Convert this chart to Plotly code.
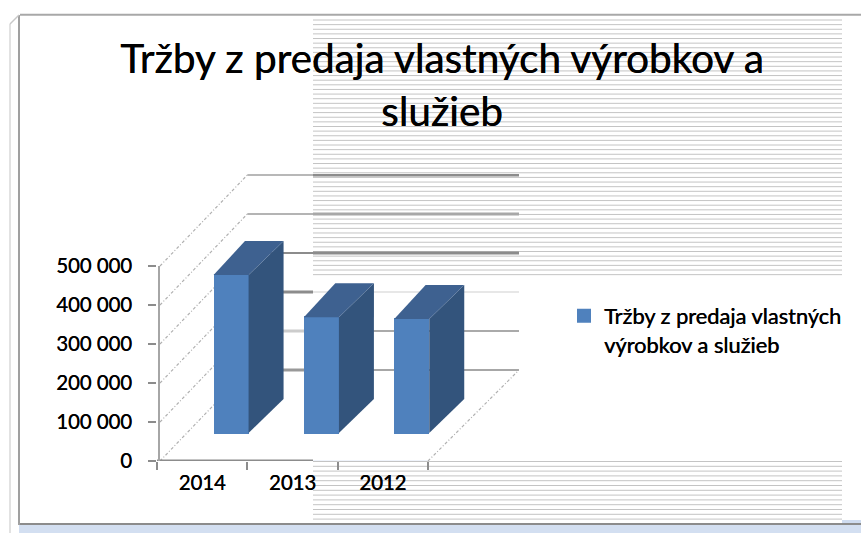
import plotly.graph_objects as go

# ---------- data ----------
years = ["2014", "2013", "2012"]
values = [405000, 297000, 292000]
y_ticks = [0, 100000, 200000, 300000, 400000, 500000]
title_text = "Tržby z predaja vlastných výrobkov a<br>služieb"
series_name = "Tržby z predaja vlastných<br>výrobkov a služieb"

# ---------- geometry (pixels) ----------
W, H = 861, 533
FONT = "Lato"
HEAVY = "0.4px 0 0 #000000"
X_FRONT_L, X_FRONT_R, X_BACK_R = 157.0, 428.0, 519.0
Y_ZERO, Y_TOP_FRONT, Y_BACK_TOP = 461.0, 266.0, 174.0
Y_BAR_BASE, Y_BACK_ZERO = 433.0, 370.0
PX_PER_CAT = (X_FRONT_R - X_FRONT_L) / 3
PX_PER_VAL = (Y_ZERO - Y_TOP_FRONT) / 500000
SPLIT_X = 313.0


def px(x):
    return x / W


def py(y):
    return 1 - y / H


def cat_x(x):
    return (x - X_FRONT_L) / PX_PER_CAT - 0.5


def val_y(y):
    return (Y_BAR_BASE - y) / PX_PER_VAL


BAR_C = 0.32
BAR_W = 33 / PX_PER_CAT
BAR_W_OUT = 35 / PX_PER_CAT
DEPTH_X = 35 / PX_PER_CAT
DEPTH_Y = 34 / PX_PER_VAL
FRONT_OFF = val_y(Y_ZERO)
BACK_OFF = val_y(Y_BACK_ZERO)

fig = go.Figure()

# dummy trace that activates the front axes (categories and value ticks)
fig.add_trace(go.Bar(x=years, y=[0, 0, 0], marker=dict(color="rgba(0,0,0,0)"),
                     showlegend=False, hoverinfo="skip"))

# main bars
fig.add_trace(go.Bar(
    x=[i + BAR_C for i in range(3)], y=values, width=BAR_W,
    marker=dict(color="#4f81bd", line=dict(width=2, color="#4f81bd")),
    name=series_name, xaxis="x2", yaxis="y2", showlegend=True, hoverinfo="y",
))

# 3-D side and top faces, computed from the values
for i, v in enumerate(values):
    x0 = i + BAR_C - BAR_W_OUT / 2
    x1 = i + BAR_C + BAR_W_OUT / 2
    fig.add_trace(go.Scatter(
        x=[x1, x1 + DEPTH_X, x1 + DEPTH_X, x1, x1],
        y=[0, DEPTH_Y, v + DEPTH_Y, v, 0],
        mode="lines", fill="toself", fillcolor="#33547c",
        line=dict(width=0, color="#33547c"),
        xaxis="x2", yaxis="y2", showlegend=False, hoverinfo="skip"))
    fig.add_trace(go.Scatter(
        x=[x0, x1, x1 + DEPTH_X, x0 + DEPTH_X - 0.04, x0],
        y=[v, v, v + DEPTH_Y, v + DEPTH_Y, v],
        mode="lines", fill="toself", fillcolor="#3e6190",
        line=dict(width=0, color="#3e6190"),
        xaxis="x2", yaxis="y2", showlegend=False, hoverinfo="skip"))

shapes = []


def hline(x0, x1, y, color, width):
    shapes.append(dict(type="line", xref="paper", yref="paper", layer="below",
                       x0=px(x0), x1=px(x1), y0=py(y), y1=py(y),
                       line=dict(color=color, width=width)))


# scan-line stripes of the reference
y = 20.0
while y < 275:
    hline(SPLIT_X, 842, y, "#c4c4c4", 1)
    y += 4.63
y = 461.5
while y < 521:
    hline(SPLIT_X, 842, y, "#c4c4c4", 1)
    y += 4.8

# chart frame and its blue shadow
shapes.append(dict(type="rect", xref="paper", yref="paper", layer="below",
                   x0=px(19), x1=1, y0=py(533), y1=py(525),
                   fillcolor="#d3dff1", line=dict(width=0)))
shapes.append(dict(type="rect", xref="paper", yref="paper", layer="below",
                   x0=px(842), x1=1, y0=py(525), y1=py(520),
                   fillcolor="#cfdcf0", line=dict(width=0)))
hline(20, 861, 14.7, "#a8a8a8", 2)
hline(19, 861, 524, "#8c8c8c", 2)
shapes.append(dict(type="line", xref="paper", yref="paper", layer="below",
                   x0=px(19), x1=px(19), y0=py(15), y1=py(525),
                   line=dict(color="#a0a0a0", width=2)))
shapes.append(dict(type="line", xref="paper", yref="paper", layer="below",
                   x0=px(10), x1=px(10), y0=py(24), y1=py(533),
                   line=dict(color="#d8d8d8", width=1.5)))
shapes.append(dict(type="line", xref="paper", yref="paper", layer="below",
                   x0=px(10), x1=px(19), y0=py(24), y1=py(15),
                   line=dict(color="#c8c8c8", width=1.5)))

# back-wall gridlines: (left colour, left width, right colour, right width)
grid_styles = [
    ("#999999", 3, "#8a8a8a", 1.5),
    ("#cccccc", 3, "#aaaaaa", 2),
    ("#8c8c8c", 3, "#cfcfcf", 1),
    ("#8c8c8c", 2, "#8c8c8c", 3),
    ("#b4b4b4", 2, "#a8a8a8", 3),
    ("#a0a0a0", 1.5, "#8c8c8c", 3),
]
xb0, xb1 = cat_x(X_FRONT_L) + 1.0, cat_x(X_BACK_R)
xs = cat_x(SPLIT_X)
for v, (c0, w0, c1, w1) in zip(y_ticks, grid_styles):
    yy = v + BACK_OFF
    shapes.append(dict(type="line", xref="x2", yref="y2", layer="below",
                       x0=xb0, x1=xs, y0=yy, y1=yy, line=dict(color=c0, width=w0)))
    shapes.append(dict(type="line", xref="x2", yref="y2", layer="below",
                       x0=xs, x1=xb1, y0=yy, y1=yy, line=dict(color=c1, width=w1)))
    # dashed side-wall diagonals
    shapes.append(dict(type="line", xref="x2", yref="y2", layer="below",
                       x0=cat_x(160), x1=xb0, y0=v + FRONT_OFF, y1=yy,
                       line=dict(color="#b0b0b0", width=1.2, dash="3px,2px,1px,2px")))

# floor: right diagonal and visible part of the front line
shapes.append(dict(type="line", xref="x2", yref="y2", layer="below",
                   x0=cat_x(X_FRONT_R), x1=xb1, y0=FRONT_OFF, y1=BACK_OFF,
                   line=dict(color="#b0b0b0", width=1.2, dash="3px,2px,1px,2px")))
shapes.append(dict(type="line", xref="x2", yref="y2", layer="below",
                   x0=cat_x(X_FRONT_L), x1=xs, y0=FRONT_OFF, y1=FRONT_OFF,
                   line=dict(color="#8c8c8c", width=3)))
# front value axis line
shapes.append(dict(type="line", xref="x2", yref="y2", layer="below",
                   x0=cat_x(159), x1=cat_x(159), y0=FRONT_OFF, y1=FRONT_OFF + 500000,
                   line=dict(color="#a6a6a6", width=2)))

fig.update_layout(
    width=W, height=H, margin=dict(l=0, r=0, t=0, b=0, autoexpand=False),
    autosize=False,
    paper_bgcolor="white", plot_bgcolor="rgba(0,0,0,0)",
    separators=". ",
    font=dict(family=FONT, color="#000000"),
    title=dict(text=title_text, x=442 / W, xanchor="center",
               y=py(73), yanchor="top",
               font=dict(family=FONT, size=40.5, color="#000000", shadow=HEAVY)),
    legend=dict(x=px(564), y=py(295), xanchor="left", yanchor="top", valign="top",
                bgcolor="rgba(0,0,0,0)",
                font=dict(family=FONT, size=21.8, color="#000000", shadow=HEAVY),
                tracegroupgap=0),
    bargap=0,
    xaxis=dict(type="category", categoryorder="array", categoryarray=years,
               range=[-0.5, 2.5], domain=[px(X_FRONT_L), px(X_FRONT_R)],
               showgrid=False, zeroline=False, showline=False,
               ticks="outside", ticklen=8, tickwidth=1.5, tickcolor="#8c8c8c",
               tickson="boundaries", ticklabelstandoff=8,
               tickfont=dict(family=FONT, size=20.3, color="#000000", shadow=HEAVY),
               anchor="y", fixedrange=True),
    yaxis=dict(range=[0, 500000], domain=[py(Y_ZERO), py(Y_TOP_FRONT)],
               tickvals=y_ticks, tickformat=",d",
               showgrid=False, zeroline=False, showline=False,
               ticks="outside", ticklen=8, tickwidth=1.5, tickcolor="#8c8c8c",
               ticklabelstandoff=12,
               tickfont=dict(family=FONT, size=20.3, color="#000000", shadow=HEAVY),
               anchor="x", fixedrange=True),
    xaxis2=dict(range=[cat_x(X_FRONT_L), cat_x(X_BACK_R)],
                domain=[px(X_FRONT_L), px(X_BACK_R)], visible=False,
                anchor="y2", fixedrange=True),
    yaxis2=dict(range=[val_y(Y_ZERO), val_y(Y_BACK_TOP)],
                domain=[py(Y_ZERO), py(Y_BACK_TOP)], visible=False,
                anchor="x2", fixedrange=True),
    shapes=shapes,
)

fig.write_html("out.html", post_script="document.body.style.margin='0';",
               config=dict(displayModeBar=False))
